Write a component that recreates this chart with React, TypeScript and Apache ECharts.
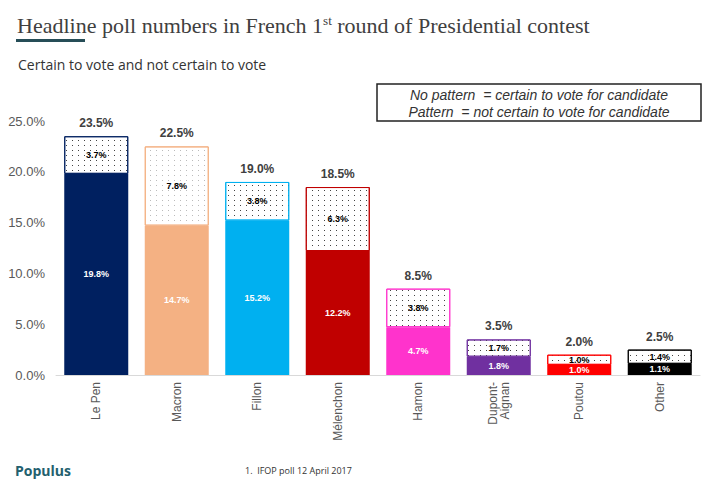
import * as echarts from "echarts";
import { useEffect, useRef } from "react";

const candidates = [
	"Le Pen",
	"Macron",
	"Fillon",
	"Mélenchon",
	"Hamon",
	"Dupont-\nAignan",
	"Poutou",
	"Other",
];
const certain = [19.8, 14.7, 15.2, 12.2, 4.7, 1.8, 1.0, 1.1];
const notCertain = [3.7, 7.8, 3.8, 6.3, 3.8, 1.7, 1.0, 1.4];
const totals = [23.5, 22.5, 19.0, 18.5, 8.5, 3.5, 2.0, 2.5];
const colors = [
	"#002060",
	"#f4b183",
	"#00b0f0",
	"#c00000",
	"#ff33cc",
	"#7030a0",
	"#ff0000",
	"#000000",
];
const dotColors = ["#444", "#bbb", "#444", "#444", "#444", "#444", "#444", "#444"];

const sans = "'Liberation Sans', Arial, sans-serif";

export default function App() {
	const chartRef = useRef<HTMLDivElement>(null);

	useEffect(() => {
		if (!chartRef.current) return;
		const chart = echarts.init(chartRef.current, null, { renderer: "svg" });
		chart.setOption({
			animation: false,
			backgroundColor: "#fff",
			grid: { left: 56, right: 8, top: 121, bottom: 108 },
			xAxis: {
				type: "category",
				data: candidates,
				axisLine: { lineStyle: { color: "#d9d9d9" } },
				axisTick: { show: false },
				axisLabel: {
					rotate: 90,
					margin: 7,
					color: "#595959",
					fontSize: 12,
					fontFamily: sans,
					lineHeight: 12,
				},
			},
			yAxis: {
				type: "value",
				min: 0,
				max: 25,
				interval: 5,
				splitLine: { show: false },
				axisLine: { show: false },
				axisTick: { show: false },
				axisLabel: {
					margin: 11,
					color: "#595959",
					fontSize: 13,
					fontFamily: sans,
					formatter: (v: number) => v.toFixed(1) + "%",
				},
			},
			series: [
				{
					name: "Certain",
					type: "bar",
					stack: "total",
					barWidth: 64,
					data: certain.map((v, i) => ({
						value: v,
						itemStyle: { color: colors[i] },
					})),
					label: {
						show: true,
						position: "inside",
						color: "#fff",
						fontSize: 9,
						fontWeight: "bold",
						fontFamily: sans,
						formatter: (p: any) => p.value.toFixed(1) + "%",
					},
				},
				{
					name: "Not certain",
					type: "bar",
					stack: "total",
					barWidth: 64,
					data: notCertain.map((v, i) => ({
						value: v,
						itemStyle: {
							color: "#fff",
							borderColor: colors[i],
							borderWidth: 1,
							decal: {
								symbol: "rect",
								symbolSize: 1,
								color: dotColors[i],
								dashArrayX: [1, 5],
								dashArrayY: [1, 4],
							},
						},
					})),
					label: {
						show: true,
						position: "inside",
						color: "#000",
						fontSize: 9,
						fontWeight: "bold",
						fontFamily: sans,
						formatter: (p: any) => p.value.toFixed(1) + "%",
					},
				},
				{
					name: "Total",
					type: "bar",
					stack: "total",
					barWidth: 64,
					data: totals.map(() => 0),
					itemStyle: { color: "transparent" },
					label: {
						show: true,
						position: "top",
						distance: 7,
						color: "#404040",
						fontSize: 12,
						fontWeight: "bold",
						fontFamily: sans,
						formatter: (p: any) => totals[p.dataIndex].toFixed(1) + "%",
					},
				},
			],
			graphic: [
				{
					type: "text",
					x: 17,
					y: 25,
					style: {
						text: "Headline poll numbers in French 1{sup|st} round of Presidential contest",
						fontFamily: "'Liberation Serif', Georgia, serif",
						fontSize: 22,
						fill: "#404040",
						verticalAlign: "middle",
						rich: {
							sup: {
								fontFamily: "'Liberation Serif', Georgia, serif",
								fontSize: 13,
								fill: "#404040",
								verticalAlign: "top",
								lineHeight: 13,
							},
						},
					},
				},
				{
					type: "rect",
					shape: { x: 16, y: 39, width: 69, height: 3 },
					style: { fill: "#264d57" },
				},
				{
					type: "text",
					x: 18,
					y: 64,
					style: {
						text: "Certain to vote and not certain to vote",
						fontFamily: "'Open Sans', sans-serif",
						fontSize: 14,
						fill: "#333",
						verticalAlign: "middle",
					},
				},
				{
					type: "rect",
					shape: { x: 377, y: 84, width: 324, height: 37 },
					style: { fill: "#fff", stroke: "#222", lineWidth: 1.5 },
				},
				{
					type: "text",
					x: 539,
					y: 95,
					style: {
						text: "No pattern  = certain to vote for candidate",
						fontFamily: sans,
						fontStyle: "italic",
						fontSize: 14,
						fill: "#333",
						align: "center",
						verticalAlign: "middle",
					},
				},
				{
					type: "text",
					x: 539,
					y: 112,
					style: {
						text: "Pattern  = not certain to vote for candidate",
						fontFamily: sans,
						fontStyle: "italic",
						fontSize: 14,
						fill: "#333",
						align: "center",
						verticalAlign: "middle",
					},
				},
				{
					type: "text",
					x: 15,
					y: 470,
					style: {
						text: "Populus",
						fontFamily: "'Open Sans', sans-serif",
						fontWeight: "bold",
						fontSize: 14,
						fill: "#23606e",
						verticalAlign: "middle",
					},
				},
				{
					type: "text",
					x: 245,
					y: 470,
					style: {
						text: "1.  IFOP poll 12 April 2017",
						fontFamily: "'Open Sans', sans-serif",
						fontSize: 9,
						fill: "#333",
						verticalAlign: "middle",
					},
				},
			],
		});

		return () => {
			chart.dispose();
		};
	}, []);

	return (
		<div
			ref={chartRef}
			style={{ position: "fixed", left: 0, top: 0, width: 708, height: 483 }}
		/>
	);
}
